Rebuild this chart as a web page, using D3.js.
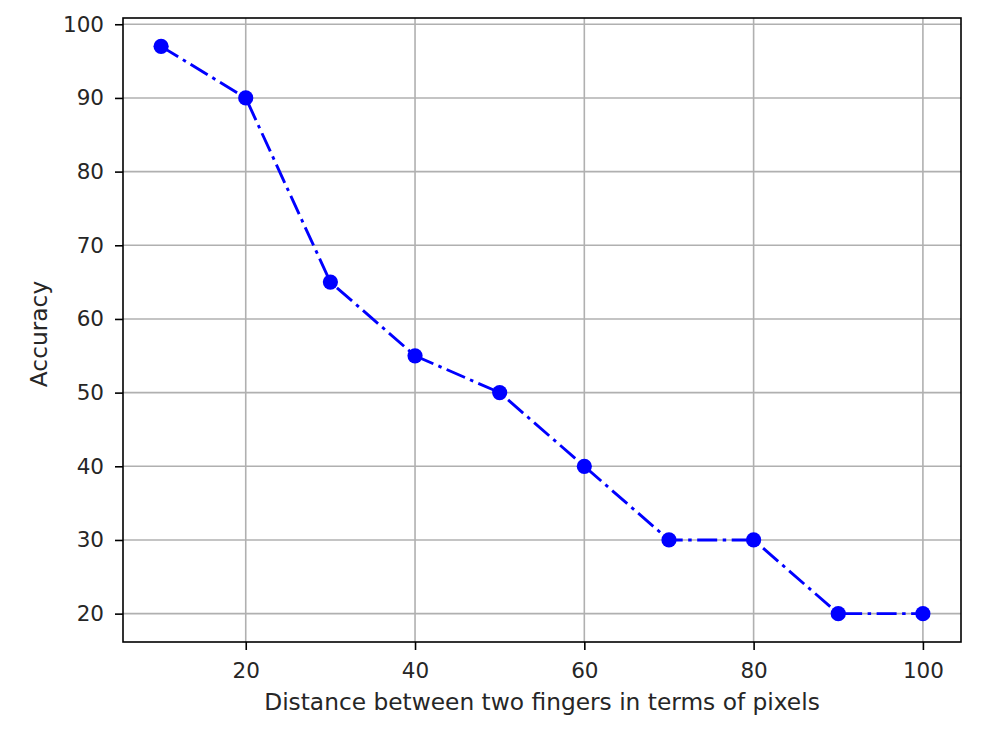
<!DOCTYPE html>
<html>
<head>
<meta charset="utf-8">
<script src="https://cdn.jsdelivr.net/npm/d3@7"></script>
<style>
html,body{margin:0;padding:0;background:#fff;}
text{font-family:"DejaVu Sans",sans-serif;fill:#262626;}
</style>
</head>
<body>
<svg id="chart" width="1000" height="732"></svg>
<script>
const distances = [10, 20, 30, 40, 50, 60, 70, 80, 90, 100];
const accuracy = [97, 90, 65, 55, 50, 40, 30, 30, 20, 20];
const xTicks = [20, 40, 60, 80, 100];
const yTicks = [20, 30, 40, 50, 60, 70, 80, 90, 100];
const xLabel = "Distance between two fingers in terms of pixels";
const yLabel = "Accuracy";

const svg = d3.select("#chart");
const L = 123, R = 961, T = 18, B = 642;
const x = d3.scaleLinear().domain([5.5, 104.5]).range([L, R]);
const y = d3.scaleLinear().domain([16.15, 100.85]).range([B, T]);

const fs = 21.5;
const lfs = 23.3;
// grid
const g = svg.append("g");
g.selectAll(".gx").data(xTicks).join("line")
  .attr("x1", d => x(d)).attr("x2", d => x(d)).attr("y1", T).attr("y2", B)
  .attr("stroke", "#b0b0b0").attr("stroke-width", 1.6);
g.selectAll(".gy").data(yTicks).join("line")
  .attr("y1", d => y(d)).attr("y2", d => y(d)).attr("x1", L).attr("x2", R)
  .attr("stroke", "#b0b0b0").attr("stroke-width", 1.6);

// axes
const xAxis = d3.axisBottom(x).tickValues(xTicks).tickSize(8).tickPadding(8);
const yAxis = d3.axisLeft(y).tickValues(yTicks).tickSize(8).tickPadding(11);
const gx = svg.append("g").attr("transform", `translate(0,${B})`).call(xAxis);
const gy = svg.append("g").attr("transform", `translate(${L},0)`).call(yAxis);
[gx, gy].forEach(a => {
  a.attr("font-size", null).attr("font-family", null);
  a.select(".domain").remove();
  a.selectAll(".tick line").attr("stroke", "#000").attr("stroke-width", 1.6);
  a.selectAll(".tick text").attr("font-size", fs).attr("fill", "#262626")
    .attr("font-family", "DejaVu Sans");
});
gx.selectAll(".tick text").attr("dy", "0.95em");

// line
const line = d3.line().x((d, i) => x(distances[i])).y(d => y(d));
svg.append("path").datum(accuracy)
  .attr("d", line).attr("fill", "none").attr("stroke", "#0000ff")
  .attr("stroke-width", 2.9).attr("stroke-dasharray", "20,5.5,3.5,5.5");
svg.selectAll(".pt").data(accuracy).join("circle")
  .attr("cx", (d, i) => x(distances[i])).attr("cy", d => y(d))
  .attr("r", 7.6).attr("fill", "#0000ff");

// frame
svg.append("rect").attr("x", L).attr("y", T).attr("width", R - L).attr("height", B - T)
  .attr("fill", "none").attr("stroke", "#000").attr("stroke-width", 1.6);

// labels
svg.append("text").attr("x", (L + R) / 2).attr("y", 710).attr("text-anchor", "middle")
  .attr("font-size", lfs).text(xLabel);
svg.append("text").attr("transform", `translate(47,${(T + B) / 2 + 4}) rotate(-90)`)
  .attr("text-anchor", "middle").attr("font-size", lfs).text(yLabel);
</script>
</body>
</html>
